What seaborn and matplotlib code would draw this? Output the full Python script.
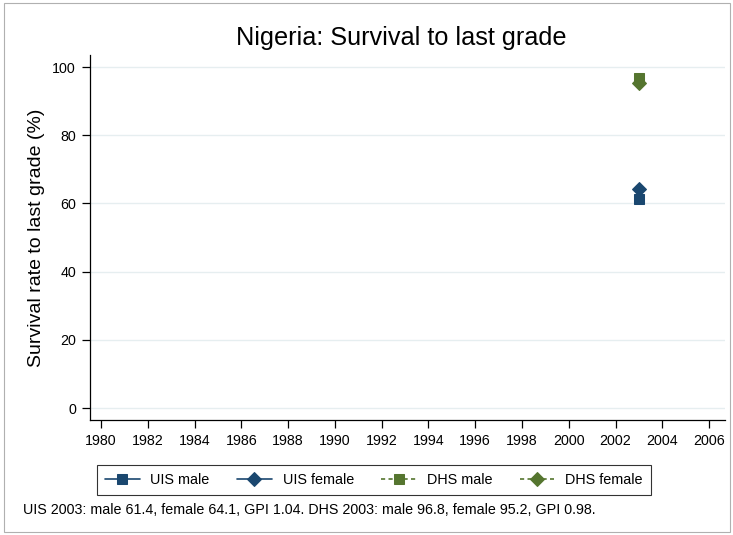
import numpy as np
import matplotlib.pyplot as plt
import seaborn as sns
import pandas as pd
from matplotlib.patches import Rectangle

# Data
years = [2003]
uis_male = [61.4]
uis_female = [64.1]
dhs_male = [96.8]
dhs_female = [95.2]
x_ticks = list(range(1980, 2007, 2))
y_ticks = [0, 20, 40, 60, 80, 100]

NAVY = '#1a476f'
GREEN = '#55752f'

sns.set_style('ticks')
plt.rcParams['font.family'] = ['Liberation Sans', 'DejaVu Sans']
plt.rcParams.update({'text.color': 'black', 'axes.labelcolor': 'black',
                     'xtick.color': 'black', 'ytick.color': 'black'})

fig = plt.figure(figsize=(7.33, 5.35), dpi=100)
# thin frame round the whole graph
fig.patches.append(Rectangle((0.006, 0.005), 0.99, 0.99, transform=fig.transFigure,
                             fill=False, edgecolor='#b0b0b0', linewidth=0.8))

ax = fig.add_axes([0.1228, 0.215, 0.866, 0.682])

series = [
    ('UIS male', uis_male, NAVY, 's', '-', 7),
    ('UIS female', uis_female, NAVY, 'D', '-', 7),
    ('DHS male', dhs_male, GREEN, 's', (0, (2.5, 2)), 7),
    ('DHS female', dhs_female, GREEN, 'D', (0, (2.5, 2)), 7),
]
for label, vals, color, marker, ls, ms in series:
    df = pd.DataFrame({'year': years, 'value': vals})
    sns.lineplot(data=df, x='year', y='value', ax=ax, color=color, marker=marker,
                 markersize=ms, markeredgecolor=color, linestyle=ls, linewidth=1.2,
                 label=label, legend=False)

ax.set_xlim(1979.53, 2006.67)
ax.set_ylim(-3.5, 103.5)
ax.set_xticks(x_ticks)
ax.set_yticks(y_ticks)
ax.tick_params(axis='both', direction='out', length=6, width=0.9, color='black',
               labelsize=10.3, pad=4)
ax.grid(axis='y', color='#e6eef0', linewidth=1.0)
ax.set_axisbelow(True)
for side in ['top', 'right']:
    ax.spines[side].set_visible(False)
for side in ['left', 'bottom']:
    ax.spines[side].set_color('black')
    ax.spines[side].set_linewidth(0.9)

ax.set_xlabel('')
ax.set_ylabel('Survival rate to last grade (%)', fontsize=14, labelpad=5)
ax.set_title('Nigeria: Survival to last grade', fontsize=18.2, pad=7, x=0.49)

handles, labels = ax.get_legend_handles_labels()
leg = fig.legend(handles, labels, ncol=4, loc='center', bbox_to_anchor=(0.51, 0.103),
                 fontsize=10.4, frameon=True, fancybox=False, edgecolor='black',
                 handlelength=2.4, columnspacing=1.9, borderpad=0.55, handletextpad=0.75)
leg.get_frame().set_linewidth(0.8)

fig.text(0.032, 0.047, 'UIS 2003: male 61.4, female 64.1, GPI 1.04. DHS 2003: male 96.8, female 95.2, GPI 0.98.',
         fontsize=10.3, ha='left', va='center')

fig.savefig('out.png', dpi=100)
